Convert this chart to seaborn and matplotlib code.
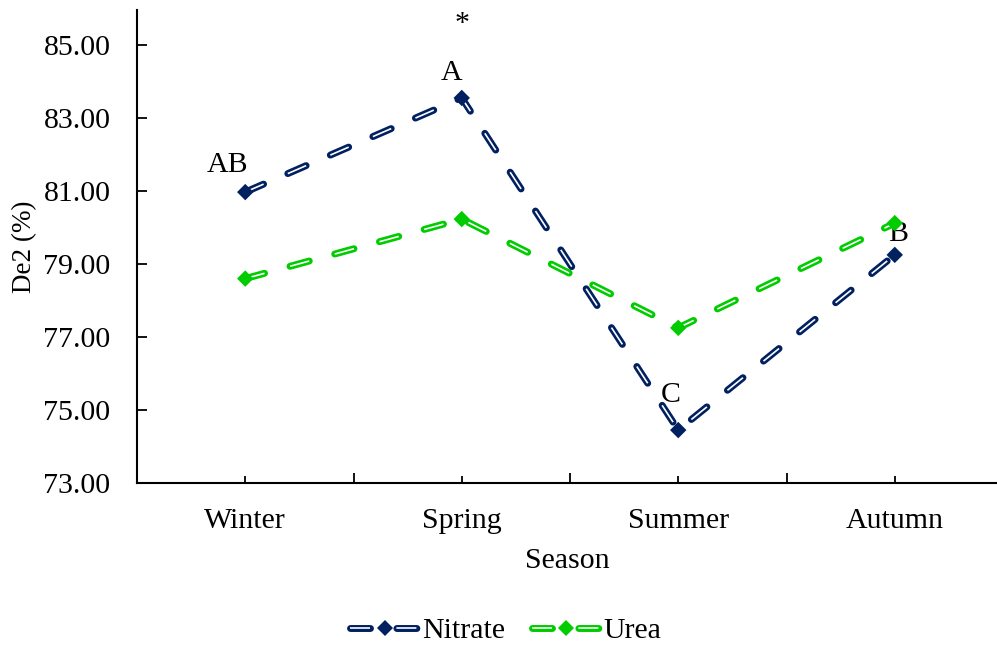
import matplotlib
matplotlib.use("Agg")
import matplotlib.pyplot as plt
from matplotlib.lines import Line2D
from matplotlib.legend_handler import HandlerTuple
import seaborn as sns
import pandas as pd

seasons = ["Winter", "Spring", "Summer", "Autumn"]
nitrate = [80.97, 83.55, 74.45, 79.25]
urea = [78.60, 80.23, 77.25, 80.12]
series_names = ["Nitrate", "Urea"]
letters = ["AB", "A", "C", "B"]
yticks = [73, 75, 77, 79, 81, 83, 85]

colors = {"Nitrate": "#002060", "Urea": "#00CC00"}

sns.set_style("white")
plt.rcParams["font.family"] = ["Liberation Serif", "DejaVu Serif"]
plt.rcParams["lines.scale_dashes"] = False
plt.rcParams["text.color"] = "black"
plt.rcParams["axes.labelcolor"] = "black"
plt.rcParams["xtick.color"] = "black"
plt.rcParams["ytick.color"] = "black"

FS = 21.5

df = pd.DataFrame({
    "Season": seasons * 2,
    "De2": nitrate + urea,
    "Treatment": ["Nitrate"] * 4 + ["Urea"] * 4,
})

fig = plt.figure(figsize=(9.97, 6.46), dpi=100)
ax = fig.add_axes([137 / 997, 1 - 483 / 646, 1 - 137 / 997, (483 - 10) / 646])

DASH = (14.4, 19.0)
LW = 5.0
WLW = 1.2

sns.lineplot(data=df, x="Season", y="De2", hue="Treatment", palette=colors,
             linewidth=LW, errorbar=None, ax=ax, legend=False, sort=False, zorder=2)
for ln in ax.lines:
    ln.set_dashes(DASH)
    ln.set_dash_capstyle("round")

for name, vals in zip(series_names, [nitrate, urea]):
    ax.plot(seasons, vals, color="white", linewidth=WLW, dashes=DASH,
            dash_capstyle="butt", zorder=3)

sns.scatterplot(data=df, x="Season", y="De2", hue="Treatment", palette=colors,
                marker="D", s=70, edgecolor="none", ax=ax, legend=False, zorder=4)

# significance letters on Nitrate series
offsets = [(-18, 27), (-10, 25), (-8, 35), (3, 21)]
for i, (lab, off) in enumerate(zip(letters, offsets)):
    ax.annotate(lab, (i, nitrate[i]), xytext=off, textcoords="offset pixels",
                ha="center", va="center", fontsize=FS)
ax.annotate("*", (1, nitrate[1]), xytext=(0, 74), textcoords="offset pixels",
            ha="center", va="center", fontsize=FS)

ax.set_xlim(-0.5, (997 - 137) / 216.5 - 0.5)
ax.set_ylim(73, 73 + 473 / 36.5)
ax.set_yticks(yticks)
ax.set_yticklabels([f"{v:.2f}" for v in yticks])
ax.set_xticks(range(len(seasons)))
ax.set_xticklabels(seasons)
ax.set_xticks([0.5, 1.5, 2.5], minor=True)

for s in ["top", "right"]:
    ax.spines[s].set_visible(False)
for s in ["left", "bottom"]:
    ax.spines[s].set_color("black")
    ax.spines[s].set_linewidth(1.5)

ax.tick_params(axis="y", which="major", direction="in", length=7, width=1.3,
               labelsize=FS, pad=19, left=True)
ax.tick_params(axis="x", which="major", direction="in", length=5, width=1.3,
               labelsize=FS, pad=18, bottom=True)
ax.tick_params(axis="x", which="minor", direction="in", length=7, width=1.3, bottom=True)

ax.set_xlabel("Season", fontsize=FS, labelpad=10)
ax.set_ylabel("De2 (%)", fontsize=19.5)
ax.yaxis.set_label_coords((37 - 137) / 860, (483 - 247) / 473)

handles = []
for name in series_names:
    c = Line2D([], [], color=colors[name], linewidth=LW, dashes=DASH,
               dash_capstyle="round")
    w = Line2D([], [], color="white", linewidth=WLW, dashes=DASH)
    m = Line2D([], [], color=colors[name], marker="D", markersize=8.4,
               linestyle="none", markeredgewidth=0)
    handles.append((c, w, m))

fig.legend(handles, series_names, handler_map={tuple: HandlerTuple(ndivide=1)},
           loc="center", bbox_to_anchor=(506 / 997, 1 - 631 / 646), ncol=2,
           frameon=False, fontsize=FS, handlelength=2.3, handletextpad=0.1,
           columnspacing=0.9)

fig.savefig("out.png", dpi=100)
